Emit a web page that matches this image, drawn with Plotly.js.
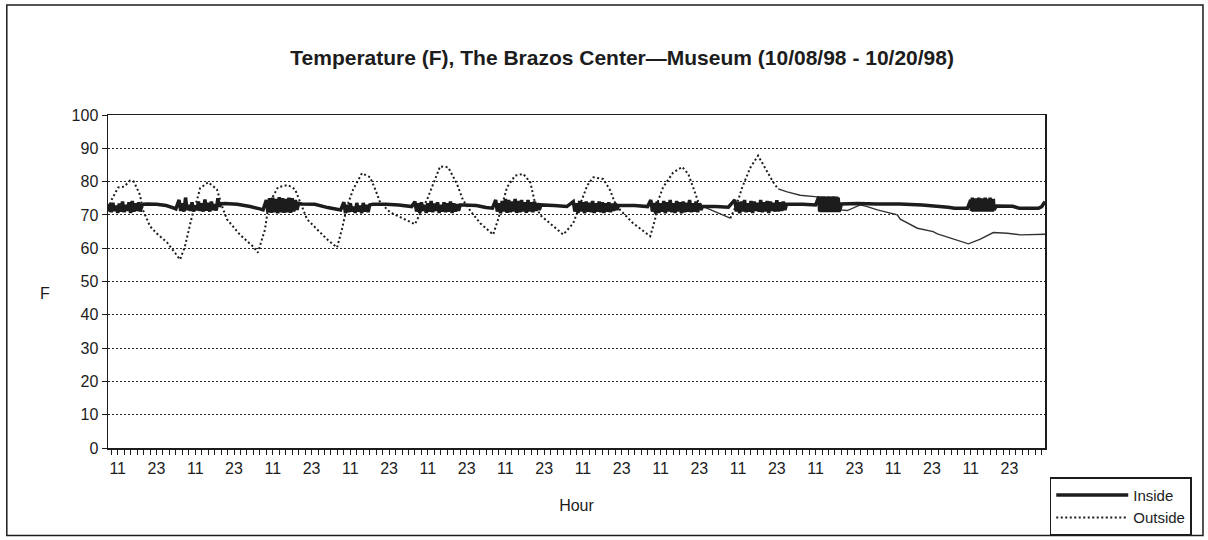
<!DOCTYPE html>
<html>
<head>
<meta charset="utf-8">
<script src="https://cdn.plot.ly/plotly-3.0.1.min.js"></script>
<style>
  html, body { margin: 0; padding: 0; background: #fff; }
  #chart { width: 1208px; height: 540px; }
</style>
</head>
<body>
<div id="chart"></div>
<script>
'use strict';

// hours since the first reading (10/08/98, 08:00)
const xLabelHours = [3, 15, 27, 39, 51, 63, 75, 87, 99, 111, 123, 135,
  147, 159, 171, 183, 195, 207, 219, 231, 243, 255, 267, 279];
const xLabelText = ['11', '23', '11', '23', '11', '23', '11', '23', '11', '23', '11', '23',
  '11', '23', '11', '23', '11', '23', '11', '23', '11', '23', '11', '23'];

// inside logger: steady at night, the AC cycles fast in the daytime
const insideHours = [
  0, 0.5, 1, 1.5, 2, 2.5, 3, 3.5, 4, 4.5, 5, 5.5, 6, 6.5, 7, 7.5, 8, 8.5, 9, 9.5, 10, 10.5,
  11, 12, 15, 18, 20, 21,
  22, 22.5, 23, 23.5, 24, 24.5, 25, 25.5, 26, 26.5, 27, 27.5, 28, 28.5, 29, 29.5, 30, 30.5,
  31, 31.5, 32, 32.5, 33, 33.5, 34, 34.5,
  35, 36, 40, 44, 47, 48,
  49, 49.5, 50, 50.5, 51, 51.5, 52, 52.5, 53, 53.5, 54, 54.5, 55, 55.5, 56, 56.5, 57, 57.5, 58, 58.5,
  59, 60, 64, 68, 72,
  73, 73.5, 74, 74.5, 75, 75.5, 76, 76.5, 77, 77.5, 78, 78.5, 79, 79.5, 80, 80.5, 81,
  82, 86, 90, 94,
  95, 95.5, 96, 96.5, 97, 97.5, 98, 98.5, 99, 99.5, 100, 100.5, 101, 101.5, 102, 102.5,
  103, 103.5, 104, 104.5, 105, 105.5, 106, 106.5, 107, 107.5, 108, 108.5, 109,
  110, 114, 117, 119,
  120, 120.5, 121, 121.5, 122, 122.5, 123, 123.5, 124, 124.5, 125, 125.5, 126, 126.5,
  127, 127.5, 128, 128.5, 129, 129.5, 130, 130.5, 131, 131.5, 132, 132.5, 133, 133.5,
  134, 138, 142,
  144, 144.5, 145, 145.5, 146, 146.5, 147, 147.5, 148, 148.5, 149, 149.5, 150, 150.5,
  151, 151.5, 152, 152.5, 153, 153.5, 154, 154.5, 155, 155.5, 156, 156.5, 157, 157.5,
  158, 163, 167,
  168, 168.5, 169, 169.5, 170, 170.5, 171, 171.5, 172, 172.5, 173, 173.5, 174, 174.5, 175, 175.5,
  176, 176.5, 177, 177.5, 178, 178.5, 179, 179.5, 180, 180.5, 181, 181.5, 182, 182.5, 183, 183.5,
  184, 188, 192,
  194, 194.5, 195, 195.5, 196, 196.5, 197, 197.5, 198, 198.5, 199, 199.5, 200, 200.5, 201, 201.5,
  202, 202.5, 203, 203.5, 204, 204.5, 205, 205.5, 206, 206.5, 207, 207.5, 208, 208.5, 209, 209.5, 210,
  211, 215, 219,
  220, 220.25, 220.5, 220.75, 221, 221.25, 221.5, 221.75, 222, 222.25, 222.5, 222.75, 223, 223.25,
  223.5, 223.75, 224, 224.25, 224.5, 224.75, 225, 225.25, 225.5, 225.75, 226, 226.25, 226.5,
  227, 232, 238, 245, 252, 260, 262, 266,
  267, 267.25, 267.5, 267.75, 268, 268.25, 268.5, 268.75, 269, 269.25, 269.5, 269.75, 270, 270.25,
  270.5, 270.75, 271, 271.25, 271.5, 271.75, 272, 272.25, 272.5, 272.75, 273, 273.25, 273.5, 273.75,
  274, 274.25, 274.5,
  275, 280, 282, 288, 289, 290
];
const insideTemps = [
  71, 73.2, 70.8, 73.6, 71.2, 72.8, 70.6, 73.4, 71, 74, 70.8, 73, 71.2, 73.8, 70.6, 74.2, 71, 73.5, 71.2, 73.8, 71, 73,
  73.2, 73.3, 73.2, 72.8, 72.2, 71.8,
  74.5, 71.2, 73.5, 71, 75.2, 71.5, 73, 71.2, 73.8, 71, 72.8, 71.4, 74, 71.2, 73.5, 71, 74.6, 71.3,
  73.6, 71, 74, 71.5, 73.2, 71.3, 75, 72.5,
  73.3, 73.4, 73.2, 72.5, 71.8, 71.5,
  74.5, 70.8, 75, 70.6, 75.2, 70.8, 74.8, 70.5, 75.3, 70.8, 75, 70.6, 74.8, 70.8, 75.2, 70.6, 75, 71, 74.5, 71.5,
  73.5, 73.3, 73.2, 72.2, 71.5,
  73.8, 70.5, 73, 70.8, 73.5, 71, 72.5, 70.6, 73.6, 71, 72.8, 70.5, 73.6, 71, 73, 70.8, 73,
  73.2, 73.2, 73, 72.5,
  74, 71, 73.5, 70.6, 73.8, 71.2, 73, 70.6, 73.5, 71, 74.2, 70.8, 73.4, 71.2, 73.8, 70.6,
  73, 71, 73.8, 70.8, 73.5, 71, 74, 70.6, 73.5, 71, 73.2, 71.2, 73,
  73, 72.8, 72.2, 72,
  74.5, 71, 73.5, 70.5, 74.2, 71, 74.8, 70.6, 74.5, 70.8, 74, 71, 74.8, 70.6,
  74.2, 70.8, 74.5, 71, 73.8, 70.6, 74.5, 71, 73.8, 70.8, 74, 71.2, 73.5, 71.5,
  73, 72.8, 72.5,
  74, 71, 73.5, 70.6, 74.2, 71, 73.8, 70.5, 74, 71, 73.6, 70.8, 74.2, 70.6,
  73.5, 71, 74, 70.8, 73.8, 70.6, 73.5, 71, 73.8, 70.8, 73.4, 71.2, 73.5, 71.5,
  72.8, 72.8, 72.5,
  74.5, 71, 73.6, 70.4, 74, 70.6, 73.5, 71, 74.2, 70.5, 73.8, 71, 74.5, 70.8, 73.5, 70.6,
  74.2, 71, 73.8, 70.5, 74, 70.8, 73.6, 71, 74.5, 70.8, 73.5, 71, 74, 70.8, 73.5, 71.5,
  72.5, 72.5, 72.3,
  74.5, 71, 73.8, 70.5, 74, 71, 74.5, 70.8, 73.5, 71, 74.2, 70.6, 74, 71.2, 73.6, 71,
  74.5, 70.8, 73.8, 71, 74.2, 70.6, 74, 71.2, 73.6, 71, 74.4, 71, 73.8, 71.2, 74, 71.5, 73.2,
  73.2, 73.2, 73,
  75.5, 71, 75.6, 70.8, 75.4, 71, 75.6, 70.8, 75.4, 71, 75.5, 70.8, 75.6, 71,
  75.4, 70.8, 75.5, 71, 75.6, 70.8, 75.4, 71, 75.5, 70.8, 75.2, 71, 71.5,
  73.3, 73.4, 73.3, 73.3, 73, 72.3, 72, 72,
  74.5, 71.2, 75.2, 71, 74.2, 71.2, 75, 71, 74.6, 71.2, 75.2, 71, 74.5, 71.3,
  75, 71, 74.6, 71.2, 75.2, 71, 74.5, 71.3, 74.8, 71, 75.2, 71.2, 74.6, 71,
  74.8, 71.5, 72,
  72.7, 72.6, 72, 72, 72.5, 74
];

// outside readings; the logger trace is dotted, with thin solid stretches
const outsideDottedHours = [
  0, 1.2, 3.1, 5, 6.8, 8, 9.9, 10.8, 13, 15, 18.3, 20.5, 22.3, 23.8, 26, 27.6, 28.5, 31, 33.7,
  35.3, 36.8, 40.9, 44.9, 46.4, 48.6, 49.5, 51.1, 52.6, 55.7, 57.9, 59.4, 61.6, 65.6, 68, 70.9,
  72.4, 74, 75.9, 78.6, 81.1, 82.7, 84.2, 87.3, 91, 95, 98.8, 100.6, 102.8, 105.3, 105.9, 108,
  109.9, 112.7, 115.2, 119.2, 120.7, 122, 123.5, 126, 128.5, 130.7, 132.2, 133.7, 136.8, 140.9,
  144, 146.7, 148.3, 150.2, 153.3, 155.4, 157, 158.5, 162.5, 167.8, 169.3, 170.3, 171.8, 174.9,
  177.7, 179.6, 181.1, 182.7, 184.2, null,
  192.6, 194.7, 196.3, 198.8, 201.2, 204, 205.9, 207.4
];
const outsideDottedTemps = [
  72, 74.7, 78.2, 78.5, 80.3, 80, 76, 71.5, 66.6, 64.5, 61.7, 59, 56.6, 60.5, 69.6, 74.7, 78, 79.8, 77.7,
  72.6, 68.7, 64, 60.5, 58.7, 65.7, 71.7, 75.6, 78.3, 79, 77.7, 73.8, 68.7, 64.8, 62.5, 60.2,
  65.7, 72.6, 77.7, 82.5, 81.3, 77.7, 73.8, 70.8, 69, 67.2, 74.7, 79, 84.6, 84.3, 83.2, 79.3,
  74.4, 70.5, 67.5, 64.1, 68.5, 73.4, 78.3, 81.8, 82.3, 79.8, 73.4, 70, 67.5, 64.1,
  67.5, 74.4, 78.8, 81.3, 80.8, 77.4, 73.4, 71.5, 67.5, 63.6, 68.5, 74.4, 78.3, 82.7,
  84.4, 82.3, 78.3, 73.9, 72.5, null,
  69, 73.4, 78.3, 84.2, 87.8, 83.2, 79.8, 77.8
];
const outsideSolidHours = [
  184.2, 188, 192.6, null,
  207.4, 210.2, 214.2, 219.5, 223, 226.6, 228.8, 232.8, 235, 238.1, 244.3, 245.2, 250.5, 255.4,
  256.7, 262.8, 266.3, 270, 274, 278.3, 282.4, 290
];
const outsideSolidTemps = [
  72.5, 71, 69, null,
  77.8, 76.9, 75.9, 75.4, 74, 71.5, 71.3, 73, 72.5, 71.5, 70, 68.7, 66, 65,
  64.3, 62.5, 61.3, 62.7, 64.7, 64.5, 64, 64.2
];

const ink = '#1c1c1c';
const baseFont = { family: 'Liberation Sans, Arial, sans-serif', size: 16, color: ink };

const data = [
  {
    x: outsideSolidHours,
    y: outsideSolidTemps,
    type: 'scatter',
    mode: 'lines',
    name: 'Outside',
    showlegend: false,
    hoverinfo: 'skip',
    line: { color: '#333', width: 1.4 }
  },
  {
    x: insideHours,
    y: insideTemps,
    type: 'scatter',
    mode: 'lines',
    name: 'Inside',
    line: { color: ink, width: 3.5, simplify: false }
  },
  {
    x: outsideDottedHours,
    y: outsideDottedTemps,
    type: 'scatter',
    mode: 'lines',
    name: 'Outside',
    line: { color: ink, width: 2, dash: '2px,2.5px' }
  }
];

const layout = {
  width: 1208,
  height: 540,
  paper_bgcolor: '#fff',
  plot_bgcolor: '#fff',
  font: baseFont,
  margin: { t: 115, l: 108, r: 163, b: 92 },
  title: {
    text: 'Temperature (F), The Brazos Center\u2014Museum (10/08/98 - 10/20/98)',
    xref: 'container',
    x: 0.515,
    xanchor: 'center',
    y: 0.894,
    yanchor: 'middle',
    font: { family: 'Liberation Sans Narrow, Arial Narrow, Liberation Sans, sans-serif', size: 21, weight: 'bold', color: ink }
  },
  xaxis: {
    range: [0, 290],
    tickmode: 'array',
    tickvals: xLabelHours,
    ticktext: xLabelText,
    ticks: 'outside',
    ticklen: 5,
    tickcolor: ink,
    minor: { ticks: 'outside', tick0: 1, dtick: 2, ticklen: 5, tickcolor: ink, showgrid: false },
    showgrid: false,
    zeroline: false,
    showline: true,
    mirror: true,
    linecolor: ink,
    linewidth: 1.5,
    tickfont: baseFont,
    title: { text: 'Hour', font: baseFont, standoff: 24 }
  },
  yaxis: {
    range: [0, 100],
    dtick: 10,
    ticks: 'outside',
    ticklen: 5,
    tickcolor: ink,
    showgrid: true,
    gridcolor: '#222',
    gridwidth: 1,
    griddash: '2px,2px',
    zeroline: false,
    showline: true,
    mirror: true,
    linecolor: ink,
    linewidth: 1.5,
    tickfont: baseFont
  },
  annotations: [
    {
      text: 'F',
      xref: 'paper',
      yref: 'paper',
      x: -0.0672,
      y: 0.4625,
      xanchor: 'center',
      yanchor: 'middle',
      showarrow: false,
      font: baseFont
    }
  ],
  legend: {
    xref: 'container',
    yref: 'container',
    x: 0.869,
    xanchor: 'left',
    y: 0.009,
    yanchor: 'bottom',
    bgcolor: '#fff',
    bordercolor: ink,
    borderwidth: 1.5,
    font: { family: 'Liberation Sans, Arial, sans-serif', size: 15, color: ink },
    traceorder: 'normal',
    itemwidth: 72,
    tracegroupgap: 0
  },
  shapes: [
    {
      type: 'rect',
      xref: 'paper',
      yref: 'paper',
      x0: -0.108,
      x1: 1.1686,
      y0: -0.263,
      y1: 1.33,
      line: { color: ink, width: 1.5 },
      layer: 'below'
    }
  ]
};

Plotly.newPlot('chart', data, layout, { displayModeBar: false, staticPlot: true });
</script>
</body>
</html>
